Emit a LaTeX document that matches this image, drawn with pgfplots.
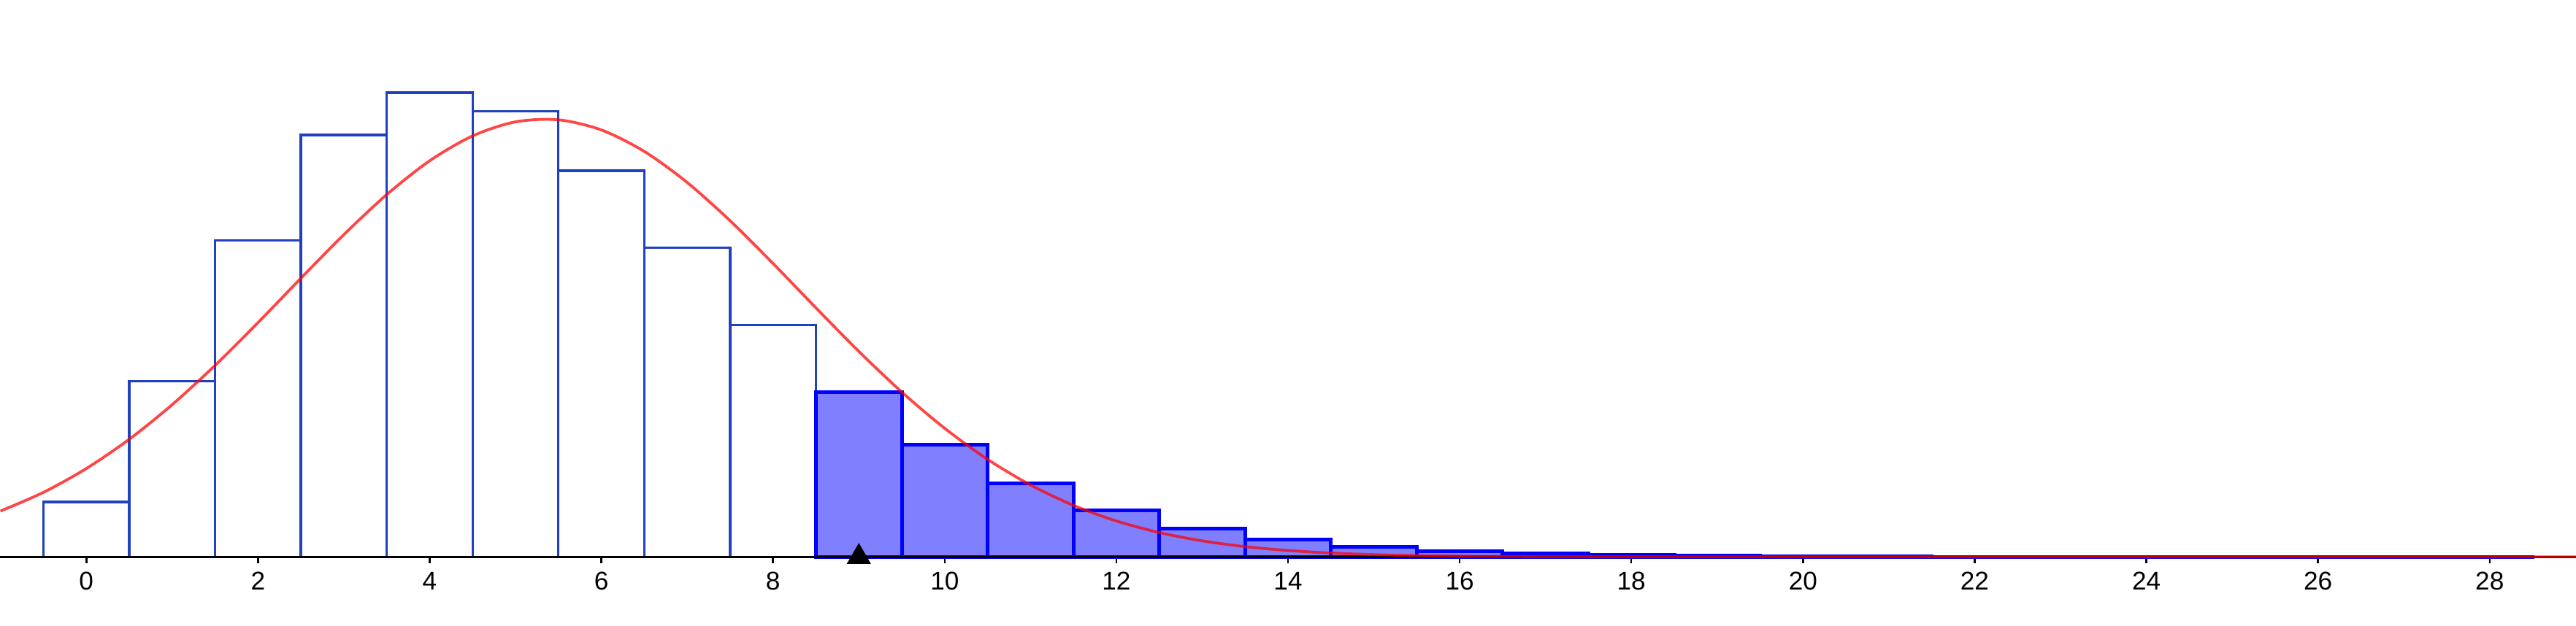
\documentclass[border=0pt]{standalone}
\usepackage{fontspec}
\setmainfont{Liberation Sans}
\usepackage{pgfplots}
\pgfplotsset{compat=1.18}

\definecolor{baredge}{RGB}{32,64,192}
\definecolor{tailedge}{RGB}{0,0,255}
\definecolor{tailfill}{RGB}{128,128,255}
\definecolor{curvered}{RGB}{255,0,0}

\begin{document}
\begin{tikzpicture}
\begin{axis}[
    width=352.8mm, height=76.33mm, scale only axis,
    xmin=-1.006, xmax=29.006,
    ymin=0, ymax=0.17023,
    axis x line=bottom, axis y line=none,
    axis line style={-, black, line width=0.3mm},
    xtick={0,2,...,28},
    tick align=outside,
    major tick length=0.85mm,
    x tick style={black, line width=0.25mm},
    xticklabel style={font=\fontsize{10}{12}\selectfont},
    /pgf/number format/assume math mode=true,
    clip=false,
]

% white bars, k = 0..8
\addplot[ybar, bar width=1, bar shift=0pt, draw=baredge, fill=white, line width=0.33mm]
coordinates {
    (0,0.016796) (1,0.053748) (2,0.096746) (3,0.128994) (4,0.141894)
    (5,0.136218) (6,0.118056) (7,0.094445) (8,0.070834)
};

% shaded bars, k = 9..28
\addplot[ybar, bar width=1, bar shift=0pt, draw=tailedge, fill=tailfill, line width=0.5mm]
coordinates {
    (9,0.050371) (10,0.034252) (11,0.022419) (12,0.014199) (13,0.008738)
    (14,0.005243) (15,0.003076) (16,0.001769) (17,0.000999) (18,0.000555)
    (19,0.000304) (20,0.000164) (21,0.0000875) (22,0.0000461) (23,0.0000241)
    (24,0.0000124) (25,0.0000064) (26,0.0000033) (27,0.0000017) (28,0.0000008)
};

% axis line again, over the bar edges
\addplot[black, line width=0.3mm, sharp plot] coordinates {(-1.006,0) (29.006,0)};

% normal curve
\addplot[curvered, opacity=0.73, line width=0.38mm, smooth] coordinates {
    (-1,0.014015) (-0.5,0.019733) (0,0.027016) (0.5,0.035957) (1,0.046533)
    (1.5,0.058547) (2,0.071622) (2.5,0.085192) (3,0.098507) (3.5,0.110759)
    (4,0.121077) (4.5,0.128684) (5,0.132976) (5.5,0.133601)
    (6,0.130506) (6.5,0.123947) (7,0.114454) (7.5,0.102753) (8,0.089696)
    (8.5,0.076121) (9,0.062813) (9.5,0.050392) (10,0.039308) (10.5,0.029810)
    (11,0.021979) (11.5,0.015759) (12,0.010984) (12.5,0.007444) (13,0.004905)
    (13.5,0.003142) (14,0.001957) (14.5,0.001185) (15,0.000698) (15.5,0.000401)
    (16,0.000222) (17,0.0000633) (18,0.0000161) (19,0.0000036) (20,0.0000007)
    (22,0) (24,0) (26,0) (28,0) (29.006,0)
};

% marker at 9
\addplot[only marks, mark=triangle*, mark size=1.77mm, black] coordinates {(9,0)};

\end{axis}
\pgfresetboundingbox
\path (current axis.south west) ++(0,-9.47mm) rectangle (current axis.north east);
\end{tikzpicture}
\end{document}
